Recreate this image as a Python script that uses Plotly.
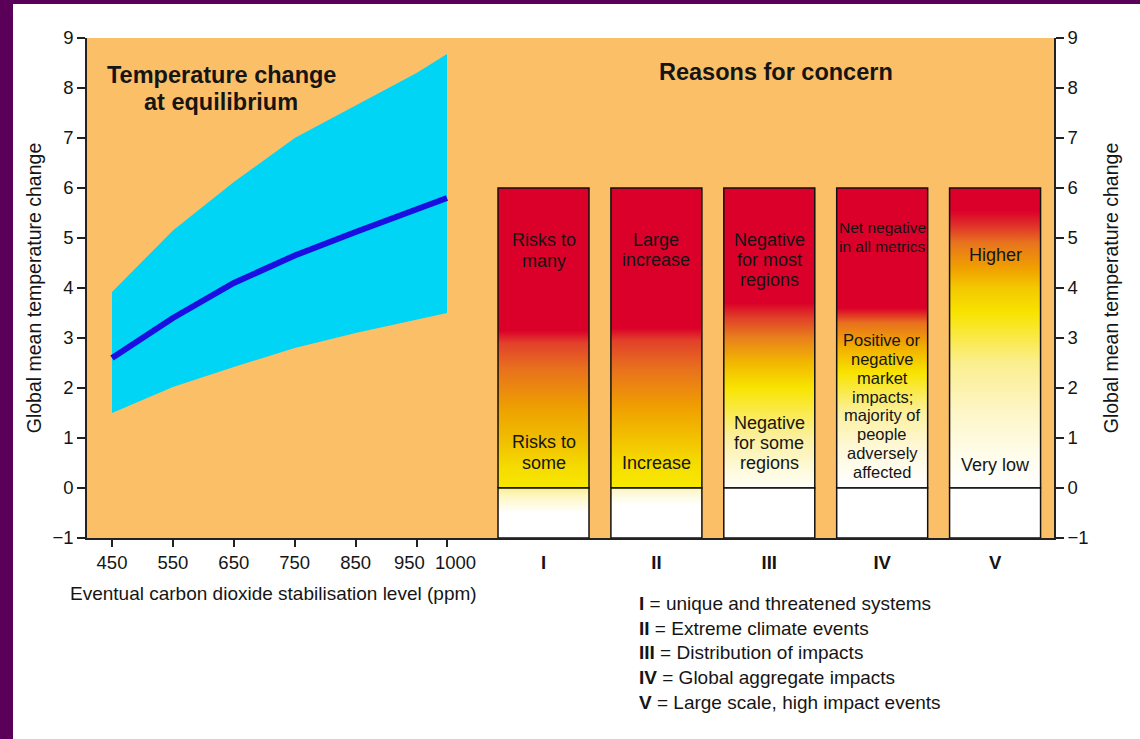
import plotly.graph_objects as go

# ---------------- data ----------------
ppm = [450, 550, 650, 750, 850, 950, 1000]
temp_central = [2.6, 3.4, 4.1, 4.65, 5.12, 5.56, 5.8]
temp_upper = [3.92, 5.15, 6.12, 7.0, 7.65, 8.3, 8.68]
temp_lower = [1.5, 2.02, 2.42, 2.8, 3.1, 3.36, 3.5]

ppm_ticks = [450, 550, 650, 750, 850, 950, 1000]
ppm_tick_labels = ["450", "550", "650", "750", "850", "950", "1000"]
temp_ticks = [-1, 0, 1, 2, 3, 4, 5, 6, 7, 8, 9]

concern_codes = ["I", "II", "III", "IV", "V"]
concern_top = [6, 6, 6, 6, 6]
concern_zero = [0, 0, 0, 0, 0]
concern_bottom = [-1, -1, -1, -1, -1]
concern_high_text = [["Risks to", "many"], ["Large", "increase"], ["Negative", "for most", "regions"],
                     ["Net negative", "in all metrics"], ["Higher"]]
concern_low_text = [["Risks to", "some"], ["Increase"], ["Negative", "for some", "regions"],
                    ["Positive or", "negative", "market", "impacts;", "majority of", "people",
                     "adversely", "affected"],
                    ["Very low"]]
concern_names = ["unique and threatened systems", "Extreme climate events",
                 "Distribution of impacts", "Global aggregate impacts",
                 "Large scale, high impact events"]

# ---------------- styles ----------------
RED = "#db0029"
ORANGE_BG = "#fbbf68"
CYAN = "#00d5f5"
BLUE = "#1a0fe0"
PURPLE = "#5b0058"
FONT = "Liberation Sans, Arial, sans-serif"
INK = "#151515"
AXIS = "#222222"

upper_stops = [
    [(0, "#f7e800"), (0.4, "#f5dc00"), (1.0, "#f0bc00"), (1.6, "#eea000"), (2.4, "#e8701e"), (2.9, "#e2402a"), (3.15, RED), (6, RED)],
    [(0, "#f8ea00"), (0.5, "#f5dc00"), (1.6, "#f0a000"), (2.4, "#e8701e"), (2.95, "#e2402a"), (3.2, RED), (6, RED)],
    [(0, "#fffef5"), (0.3, "#fefbe0"), (1.0, "#fcf0a0"), (2.0, "#f8e400"), (2.5, "#f2b800"), (3.0, "#e8801c"), (3.4, "#e04028"), (3.7, RED), (6, RED)],
    [(0, "#ffffff"), (0.3, "#fffdf2"), (0.8, "#fef8d8"), (1.5, "#fcf0a0"), (2.3, "#f8e400"), (2.8, "#f2b000"), (3.3, "#e8701e"), (3.6, RED), (6, RED)],
    [(0, "#ffffff"), (0.5, "#fffdf0"), (1.5, "#fdf6c8"), (2.5, "#fbee90"), (3.5, "#f8e400"), (4.0, "#f4c800"), (4.4, "#f0a000"), (4.9, "#e8741e"), (5.25, "#e0302a"), (5.55, RED), (6, RED)],
]
lower_stops = [
    [(-1, "#ffffff"), (-0.5, "#ffffff"), (-0.15, "#fdf6c0"), (0, "#faee90")],
    [(-1, "#ffffff"), (-0.35, "#ffffff"), (-0.1, "#fdf8d8"), (0, "#fcf4b8")],
    [(-1, "#ffffff"), (0, "#ffffff")],
    [(-1, "#ffffff"), (0, "#ffffff")],
    [(-1, "#ffffff"), (0, "#ffffff")],
]
BAR_HALF = 0.403

# label placement (centre y in data units, line spacing in data units, font size)
high_pos = [(4.75, 0.41, 18), (4.76, 0.41, 18), (4.56, 0.40, 18), (5.03, 0.38, 15.5), (4.66, 0.40, 18)]
low_pos = [(0.71, 0.41, 18), (0.50, 0.41, 18), (0.90, 0.40, 18), (1.64, 0.377, 16.5), (0.46, 0.40, 18)]

# the two crowded tick labels are nudged apart as in the original artwork (pixel shifts)
crowded_shift = {"950": -7, "1000": 9}

fig = go.Figure()

# ---------------- left panel: band + central line ----------------
fig.add_trace(go.Scatter(x=ppm, y=temp_lower, mode="lines", line=dict(width=0, color=CYAN),
                         showlegend=False, hoverinfo="skip", xaxis="x", yaxis="y"))
fig.add_trace(go.Scatter(x=ppm, y=temp_upper, mode="lines", line=dict(width=0, color=CYAN),
                         fill="tonexty", fillcolor=CYAN, showlegend=False, xaxis="x", yaxis="y"))
fig.add_trace(go.Scatter(x=ppm, y=temp_central, mode="lines", line=dict(width=6, color=BLUE),
                         showlegend=False, xaxis="x", yaxis="y"))


def scale_from(stops, lo, hi):
    return [[(v - lo) / (hi - lo), c] for v, c in stops]


# ---------------- right panel: gradient bars ----------------
for i, code in enumerate(concern_codes):
    xs = [i - BAR_HALF, i + BAR_HALF, i + BAR_HALF, i - BAR_HALF, i - BAR_HALF]
    lo, mid, hi = concern_bottom[i], concern_zero[i], concern_top[i]
    fig.add_trace(go.Scatter(
        x=xs, y=[mid, mid, hi, hi, mid], mode="lines", fill="toself",
        fillgradient=dict(type="vertical", start=mid, stop=hi,
                          colorscale=scale_from(upper_stops[i], mid, hi)),
        line=dict(color="#111111", width=1.5), showlegend=False, name=code,
        xaxis="x2", yaxis="y"))
    fig.add_trace(go.Scatter(
        x=xs, y=[lo, lo, mid, mid, lo], mode="lines", fill="toself",
        fillgradient=dict(type="vertical", start=lo, stop=mid,
                          colorscale=scale_from(lower_stops[i], lo, mid)),
        line=dict(color="#111111", width=1.5), showlegend=False, name=code,
        xaxis="x2", yaxis="y"))

# invisible trace to activate right axis
fig.add_trace(go.Scatter(x=[0], y=[0], mode="markers", marker=dict(opacity=0),
                         showlegend=False, hoverinfo="skip", xaxis="x2", yaxis="y2"))


def add_lines(i, lines, pos):
    yc, sp, size = pos
    n = len(lines)
    for k, t in enumerate(lines):
        fig.add_annotation(x=i, y=yc + (n - 1) / 2 * sp - k * sp, xref="x2", yref="y", text=t,
                           showarrow=False, xanchor="center", yanchor="middle",
                           font=dict(family=FONT, size=size, color=INK))


for i in range(len(concern_codes)):
    add_lines(i, concern_high_text[i], high_pos[i])
    add_lines(i, concern_low_text[i], low_pos[i])

# ---------------- pixel helpers for paper-positioned text ----------------
L, R, T, B = 87, 1054, 38, 538
def px(x):
    return (x - L) / (R - L)
def py(y):
    return (B - y) / (B - T)

for txt, xx, yy in [("Temperature change", 221, 75), ("at equilibrium", 221, 102), ("Reasons for concern", 776, 72)]:
    fig.add_annotation(x=px(xx), y=py(yy), xref="paper", yref="paper", xanchor="center", yanchor="middle",
                       text=f"<b>{txt}</b>", showarrow=False,
                       font=dict(family=FONT, size=23.5, color=INK))
fig.add_annotation(x=px(273), y=py(593), xref="paper", yref="paper", xanchor="center", yanchor="middle",
                   text="Eventual carbon dioxide stabilisation level (ppm)", showarrow=False,
                   font=dict(family=FONT, size=19, color=INK))

legend_y = [603, 628, 652, 677, 702]
for code, name, ly in zip(concern_codes, concern_names, legend_y):
    fig.add_annotation(x=px(637), y=py(ly), xref="paper", yref="paper", xanchor="left", yanchor="middle",
                       text=f"<b>{code}</b> = {name}", showarrow=False,
                       font=dict(family=FONT, size=19, color=INK))

# crowded tick labels drawn at their tick values, nudged sideways
tick_text = []
for v, t in zip(ppm_ticks, ppm_tick_labels):
    if t in crowded_shift:
        tick_text.append(" ")
        fig.add_annotation(x=v, y=py(562), xref="x", yref="paper", xanchor="center", yanchor="middle",
                           xshift=crowded_shift[t], text=t, showarrow=False,
                           font=dict(family=FONT, size=18.5, color=INK))
    else:
        tick_text.append(t)

# ---------------- border (purple frame) ----------------
fig.add_shape(type="rect", xref="paper", yref="paper", x0=px(0), x1=px(13), y0=py(739), y1=py(0),
              fillcolor=PURPLE, line=dict(width=0), layer="above")
fig.add_shape(type="rect", xref="paper", yref="paper", x0=px(0), x1=px(1140), y0=py(4), y1=py(0),
              fillcolor=PURPLE, line=dict(width=0), layer="above")

split = px(497)
axis_common = dict(showgrid=False, zeroline=False, showline=True, linecolor=AXIS, linewidth=1.5,
                   tickfont=dict(family=FONT, size=18.5, color=INK))

fig.update_layout(
    width=1140, height=739, autosize=False,
    margin=dict(l=L, r=1140 - R, t=T, b=739 - B),
    paper_bgcolor="white", plot_bgcolor=ORANGE_BG,
    showlegend=False,
    xaxis=dict(domain=[0, split], range=[408.96, 1082.1], tickvals=ppm_ticks, ticktext=tick_text,
               tickangle=0, ticks="outside", ticklen=7, tickwidth=1.5, tickcolor=AXIS, anchor="y",
               **axis_common),
    xaxis2=dict(domain=[split, 1], range=[-0.412, 4.522], tickvals=list(range(5)),
                ticktext=[f"<b>{c}</b>" for c in concern_codes], tickangle=0,
                ticks="outside", ticklen=7, tickcolor="rgba(0,0,0,0)", anchor="y",
                **axis_common),
    yaxis=dict(range=[-1, 9], tickvals=temp_ticks, ticks="outside", ticklen=8, tickwidth=1.5,
               tickcolor=AXIS, anchor="x",
               title=dict(text="Global mean temperature change", standoff=6,
                          font=dict(family=FONT, size=19.5, color=INK)),
               **axis_common),
    yaxis2=dict(range=[-1, 9], tickvals=temp_ticks, ticks="outside", ticklen=8, tickwidth=1.5,
                tickcolor=AXIS, anchor="x2", overlaying="y", side="right",
                title=dict(text="Global mean temperature change", standoff=17,
                           font=dict(family=FONT, size=19.5, color=INK)),
                **axis_common),
)

fig.write_html("out.html", config={"displayModeBar": False},
               post_script="document.body.style.margin='0';")
